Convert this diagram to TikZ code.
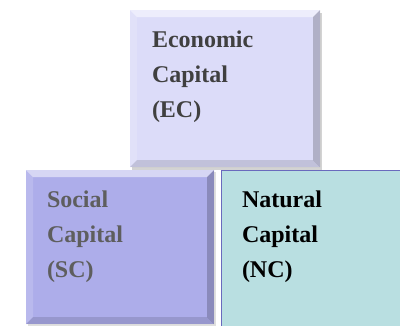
\documentclass[tikz,border=0pt]{standalone}
\usepackage{fontspec}
\setmainfont{Liberation Serif}
\usetikzlibrary{shadows}

\definecolor{ecfill}{HTML}{DCDCF9}
\definecolor{scfill}{HTML}{ADADEA}
\definecolor{ncfill}{HTML}{B9DFE1}
\definecolor{ncline}{HTML}{6A6ABD}
\definecolor{ectext}{HTML}{404040}
\definecolor{sctext}{HTML}{5E5E5E}

% bevel edges on a box node: #1 node name, #2 depth
\newcommand{\bevelbox}[2]{%
\fill [white,opacity=.5] (#1.north west) -- (#1.north east) -- ([shift={(-#2,#2)}]#1.north east) -- ([shift={(#2,#2)}]#1.north west) -- cycle;
\fill [white,opacity=.15] (#1.north west) -- ([shift={(#2,#2)}]#1.north west) -- ([shift={(#2,-#2)}]#1.south west) -- (#1.south west) -- cycle;
\fill [black,opacity=.2] (#1.north east) -- (#1.south east) -- ([shift={(-#2,-#2)}]#1.south east) -- ([shift={(-#2,#2)}]#1.north east) -- cycle;
\fill [black,opacity=.12] (#1.south west) -- (#1.south east) -- ([shift={(-#2,-#2)}]#1.south east) -- ([shift={(#2,-#2)}]#1.south west) -- cycle;
}

\begin{document}
\begin{tikzpicture}[x=1pt,y=-1pt]
\tikzstyle{every node}+=[inner sep=0pt,outer sep=0pt]
\tikzstyle{capbox}=[rectangle]
\tikzstyle{captext}=[anchor=north west,align=left,font=\fontsize{24}{35}\selectfont\bfseries]
\useasboundingbox (0,0) rectangle (400,325);
\node [capbox,fill=ecfill,minimum width=190pt,minimum height=157pt,
  drop shadow={shadow xshift=2pt,shadow yshift=-3pt,opacity=.35}] (ec) at (225,88.5) {};
\bevelbox{ec}{7}
\node [capbox,fill=scfill,minimum width=188pt,minimum height=154pt,
  drop shadow={shadow xshift=2pt,shadow yshift=-2pt,opacity=.25}] (sc) at (120,247) {};
\bevelbox{sc}{7}
\node [capbox,fill=ncfill,draw=ncline,line width=0.8pt,minimum width=182pt,minimum height=156pt] (nc) at (312,248) {};
\node [captext,text=ectext] (eclabel) at ([shift={(22,20.5)}]ec.north west) {Economic\\Capital\\(EC)};
\node [captext,text=sctext] (sclabel) at ([shift={(21,20.5)}]sc.north west) {Social\\Capital\\(SC)};
\node [captext,text=black] (nclabel) at ([shift={(21,20.5)}]nc.north west) {Natural\\Capital\\(NC)};
\end{tikzpicture}
\end{document}
